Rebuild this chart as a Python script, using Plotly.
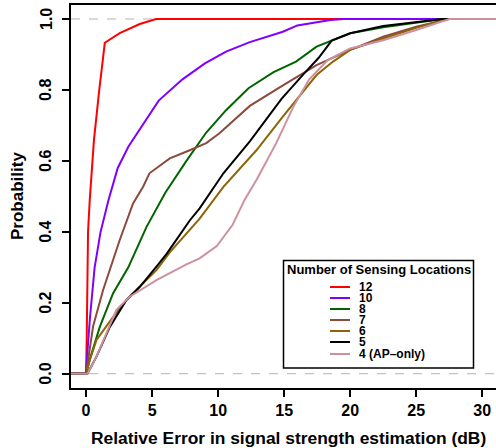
import plotly.graph_objects as go

# ---- data ----
x12 = [-2, 0, 0.05, 0.1, 0.15, 0.28, 0.6, 1.0, 1.42, 2.55, 4.07, 5.3, 32]
y12 = [0, 0, 0.10, 0.30, 0.40, 0.49, 0.66, 0.80, 0.933, 0.96, 0.986, 1.0, 1.0]

x10 = [-2, 0, 0.1, 0.3, 0.65, 1.1, 1.7, 2.4, 3.2, 4.1, 5.5, 7.3, 9.0, 10.6, 12.4, 14.9, 16.0, 18.5, 19.5, 32]
y10 = [0, 0, 0.06, 0.16, 0.30, 0.40, 0.49, 0.58, 0.64, 0.69, 0.77, 0.83, 0.875, 0.908, 0.935, 0.964, 0.982, 0.997, 1.0, 1.0]

x8 = [-2, 0, 0.28, 1.04, 2.05, 3.2, 4.58, 6.0, 7.6, 9.1, 10.6, 12.3, 14.2, 15.9, 17.45, 20, 22.5, 25, 27, 32]
y8 = [0, 0, 0.04, 0.132, 0.227, 0.30, 0.414, 0.51, 0.60, 0.68, 0.743, 0.805, 0.85, 0.88, 0.922, 0.96, 0.977, 0.99, 1.0, 1.0]

x7 = [-2, 0, 0.08, 0.53, 1.29, 2.05, 2.55, 3.56, 4.32, 4.8, 6.34, 7.85, 9.1, 10.1, 12.4, 15.0, 17.45, 20, 22.5, 25, 27.5, 32]
y7 = [0, 0, 0.02, 0.133, 0.236, 0.32, 0.377, 0.48, 0.527, 0.565, 0.607, 0.63, 0.65, 0.678, 0.755, 0.815, 0.87, 0.913, 0.95, 0.978, 1.0, 1.0]

x6 = [-2, 0, 0.3, 0.79, 2.05, 3.0, 4.32, 5.33, 6.34, 7.85, 8.6, 10.4, 12.4, 12.9, 14.9, 17.45, 18.7, 20, 22.5, 25, 27.3, 32]
y6 = [0, 0, 0.04, 0.095, 0.16, 0.205, 0.255, 0.292, 0.342, 0.405, 0.437, 0.527, 0.607, 0.63, 0.725, 0.842, 0.88, 0.913, 0.945, 0.975, 1.0, 1.0]

x5 = [-2, 0, 0.1, 0.79, 1.8, 3.06, 4.07, 5.33, 6.1, 6.85, 7.85, 8.6, 10.4, 12.4, 14.8, 16.4, 17.6, 18.6, 20, 22.5, 25, 27, 32]
y5 = [0, 0, 0.0, 0.048, 0.132, 0.208, 0.245, 0.302, 0.338, 0.378, 0.432, 0.466, 0.565, 0.655, 0.775, 0.842, 0.89, 0.939, 0.96, 0.98, 0.99, 1.0, 1.0]

x4 = [-2, 0, 0.1, 0.79, 1.55, 2.3, 3.3, 5.33, 7.6, 8.6, 9.9, 11.1, 12.0, 12.9, 14.4, 15.7, 16.9, 18.3, 20, 22.5, 25, 27.5, 32]
y4 = [0, 0, 0.0, 0.048, 0.114, 0.18, 0.217, 0.264, 0.308, 0.325, 0.36, 0.42, 0.49, 0.546, 0.65, 0.753, 0.83, 0.884, 0.917, 0.94, 0.969, 1.0, 1.0]

labels = ["12", "10", "8", "7", "6", "5", "4 (AP\u2013only)"]
colors = ["#FF0000", "#7F00FF", "#006400", "#8B4A3C", "#8B6508", "#000000", "#CD919E"]
series_x = [x12, x10, x8, x7, x6, x5, x4]
series_y = [y12, y10, y8, y7, y6, y5, y4]

x_ticks = [0, 5, 10, 15, 20, 25, 30]
y_ticks = [0.0, 0.2, 0.4, 0.6, 0.8, 1.0]
y_ticklabels = ["0.0", "0.2", "0.4", "0.6", "0.8", "1.0"]
hlines = [0, 1]

FONT = "Liberation Sans"

fig = go.Figure()
for xs, ys, c, lab in zip(series_x, series_y, colors, labels):
    fig.add_trace(go.Scatter(x=xs, y=ys, mode="lines", name=lab,
                             line=dict(color=c, width=2), showlegend=False))

for h in hlines:
    fig.add_shape(type="line", xref="paper", x0=0, x1=1, yref="y", y0=h, y1=h,
                  line=dict(color="#B3B3B3", width=1, dash="dash"), layer="below")

W, H = 496, 448
pl, pr, pt, pb = 71, 0, 5, 60
pw, ph = W - pl - pr, H - pt - pb

fig.update_layout(
    width=W, height=H,
    margin=dict(l=pl, r=pr, t=pt, b=pb, autoexpand=False),
    paper_bgcolor="white", plot_bgcolor="white",
    font=dict(family=FONT, size=16, color="black"),
)
fig.update_xaxes(range=[-1.14, 31.04], tickvals=x_ticks, ticktext=[str(v) for v in x_ticks],
                 showline=True, linecolor="black", linewidth=2, mirror=True,
                 ticks="outside", ticklen=7, tickwidth=2, tickcolor="black",
                 showgrid=False, zeroline=False, automargin=False,
                 tickfont=dict(family=FONT, size=16, weight="bold"))
fig.update_yaxes(range=[-0.0403, 1.0395], tickvals=y_ticks, showticklabels=False,
                 showline=True, linecolor="black", linewidth=2,
                 ticks="outside", ticklen=7, tickwidth=2, tickcolor="black",
                 showgrid=False, zeroline=False, automargin=False)

def px(x):
    return (x - pl) / pw
def py(y):
    return 1 - (y - pt) / ph

# y tick labels, rotated like R's default (parallel to the axis)
for v, t in zip(y_ticks, y_ticklabels):
    fig.add_annotation(xref="paper", yref="y", x=px(46), y=v, text="<b>%s</b>" % t,
                       showarrow=False, textangle=-90, font=dict(family=FONT, size=16),
                       xanchor="center", yanchor="middle")

# axis titles
fig.add_annotation(xref="paper", yref="paper", x=px(288), y=py(438),
                   text="<b>Relative Error in signal strength estimation (dB)</b>", showarrow=False,
                   font=dict(family=FONT, size=17.4), xanchor="center", yanchor="middle")
fig.add_annotation(xref="paper", yref="paper", x=px(18), y=py(196),
                   text="<b>Probability</b>", showarrow=False, textangle=-90,
                   font=dict(family=FONT, size=17), xanchor="center", yanchor="middle")

# ---- manual legend (R style) ----
fig.add_shape(type="rect", xref="paper", yref="paper",
              x0=px(283.5), x1=px(473.5), y0=py(368), y1=py(260.5),
              line=dict(color="black", width=1.5), fillcolor="white")
fig.add_annotation(xref="paper", yref="paper", x=px(378.5), y=py(269.5),
                   text="<b>Number of Sensing Locations</b>", showarrow=False,
                   font=dict(family=FONT, size=13), xanchor="center", yanchor="middle")
ys_leg = [287, 298, 309, 320, 331, 342, 354]
for yy, c, lab in zip(ys_leg, colors, labels):
    fig.add_shape(type="line", xref="paper", yref="paper", x0=px(330), x1=px(350),
                  y0=py(yy), y1=py(yy), line=dict(color=c, width=2))
    fig.add_annotation(xref="paper", yref="paper", x=px(357), y=py(yy), text="<b>%s</b>" % lab,
                       showarrow=False, font=dict(family=FONT, size=12),
                       xanchor="left", yanchor="middle")

fig.write_html("out.html", config={"displayModeBar": False},
               post_script="document.body.style.margin='0px';")
